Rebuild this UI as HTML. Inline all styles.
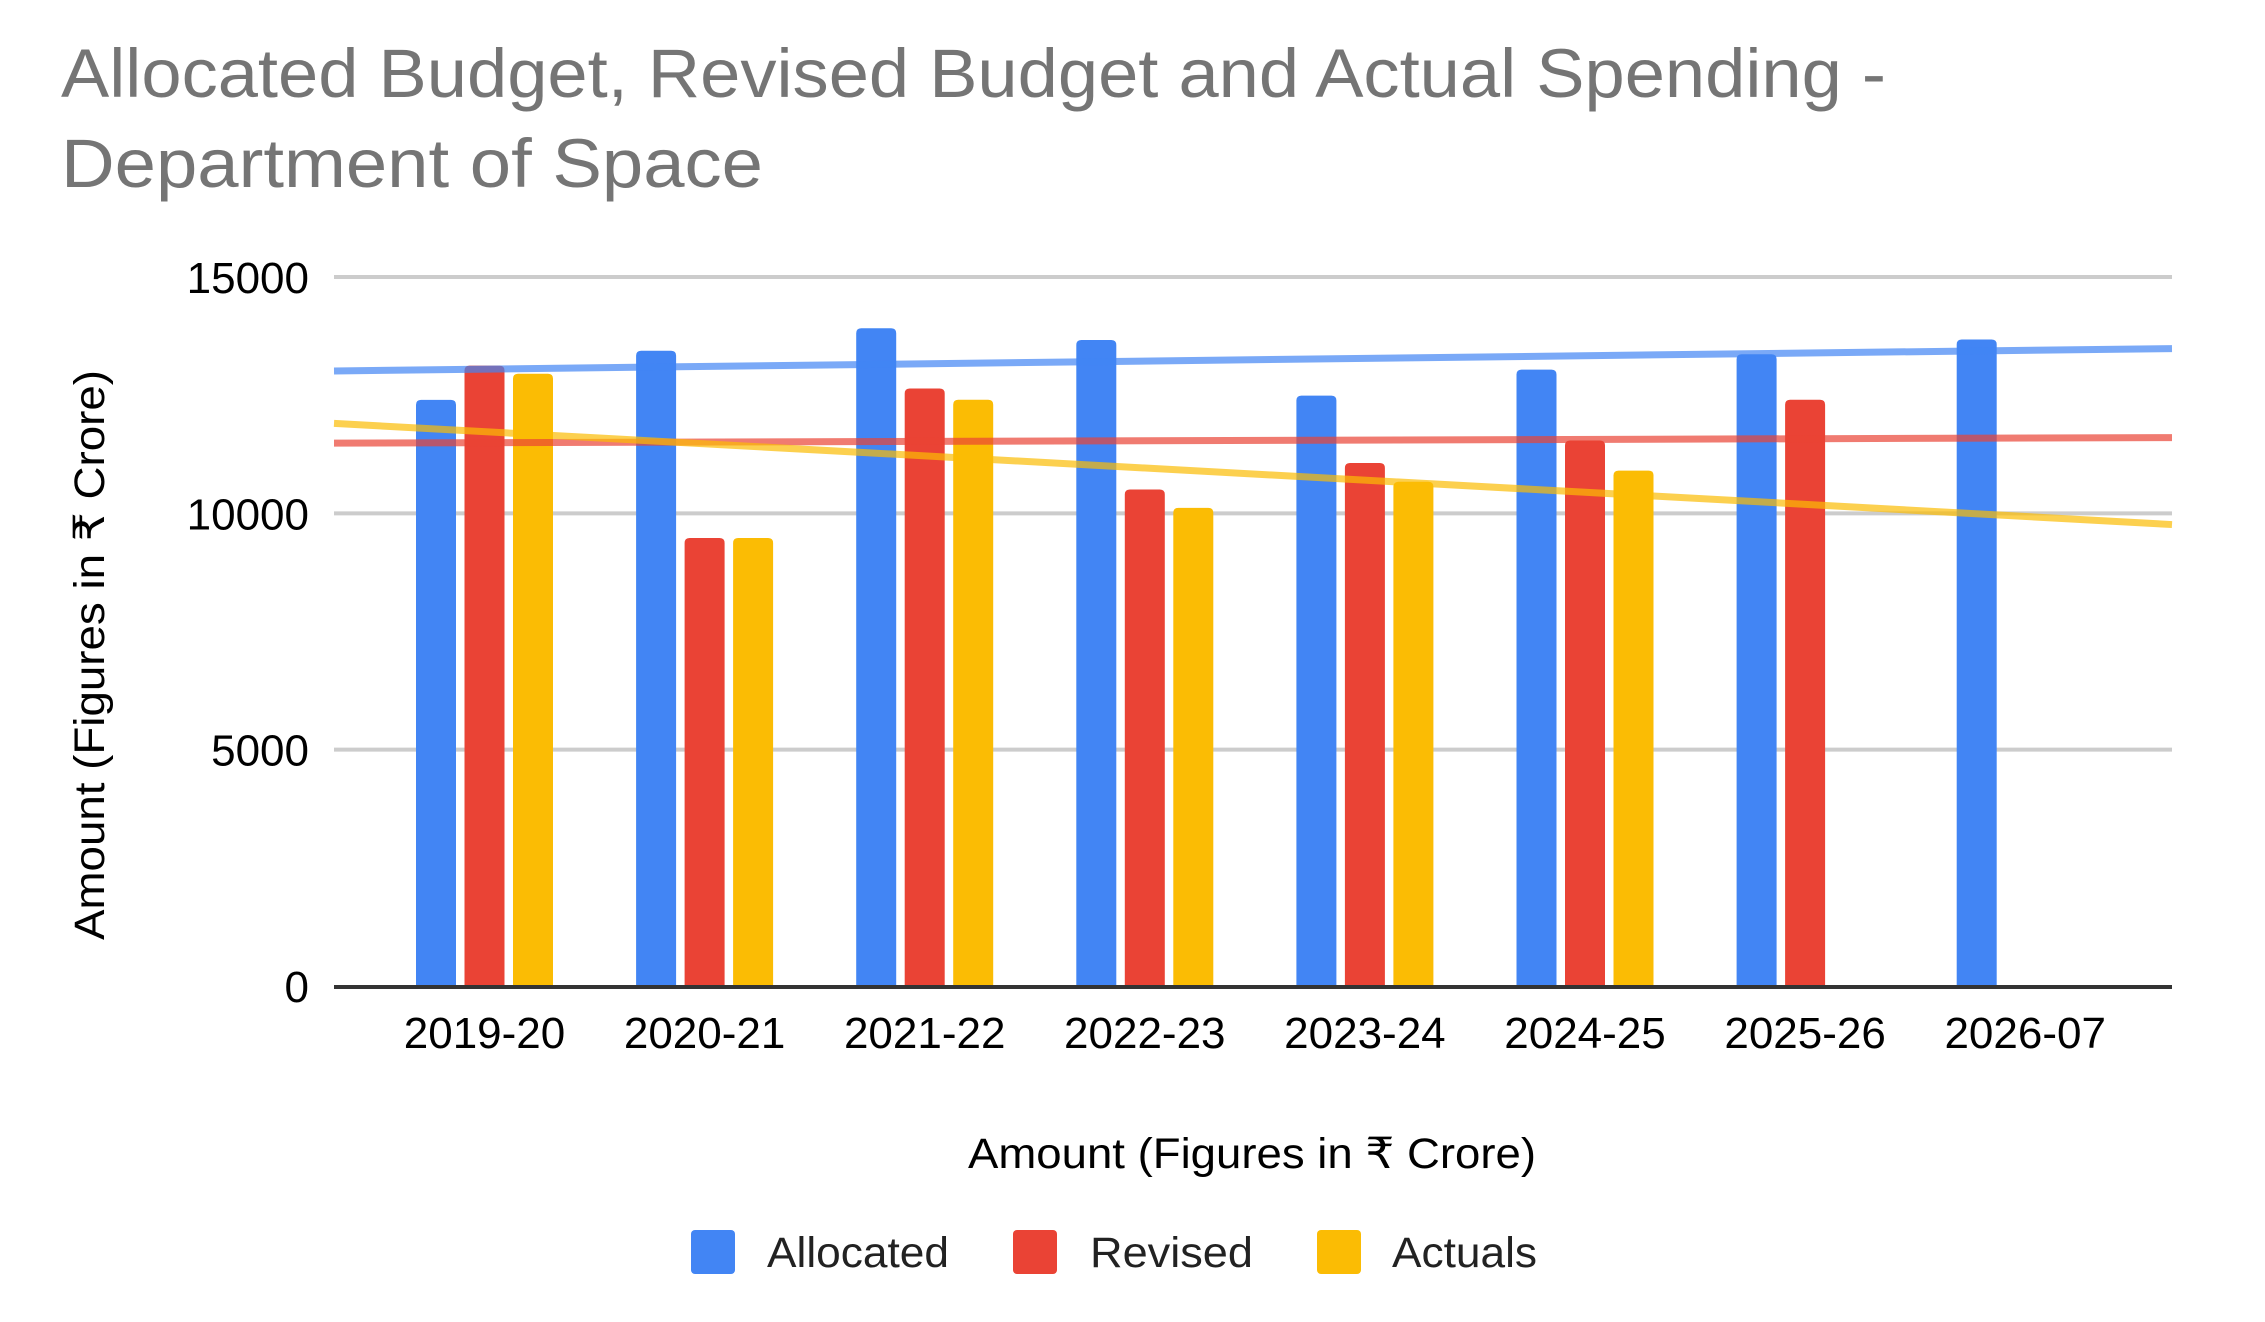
<!DOCTYPE html>
<html><head><meta charset="utf-8"><style>
html,body{margin:0;padding:0;background:#fff;}
svg{display:block;font-family:"Liberation Sans","Noto Sans CJK SC",sans-serif;}
</style></head><body>
<svg id="chart" width="2265" height="1322" viewBox="0 0 2265 1322" xmlns="http://www.w3.org/2000/svg">
<rect width="2265" height="1322" fill="#fff"/>
<text x="61" y="97" font-size="69" fill="#757575" textLength="1825" lengthAdjust="spacingAndGlyphs">Allocated Budget, Revised Budget and Actual Spending -</text>
<text x="61" y="187" font-size="69" fill="#757575" textLength="702" lengthAdjust="spacingAndGlyphs">Department of Space</text>
<g id="grid"></g>
<g id="bars"></g>
<g id="trends"></g>
<g id="axes"></g>
<text x="0" y="0" font-size="43" fill="#000" text-anchor="middle" transform="translate(104,655) rotate(-90)" textLength="570" lengthAdjust="spacingAndGlyphs">Amount (Figures in ₹ Crore)</text>
<text x="1252" y="1168" font-size="43" fill="#000" text-anchor="middle" textLength="568" lengthAdjust="spacingAndGlyphs">Amount (Figures in ₹ Crore)</text>
<g>
  <g>
    <rect x="691" y="1230" width="44" height="44" rx="4" fill="#4285f4"/>
    <text x="767" y="1267" font-size="43" fill="#222" textLength="182" lengthAdjust="spacingAndGlyphs">Allocated</text>
  </g>
  <g>
    <rect x="1013" y="1230" width="44" height="44" rx="4" fill="#ea4335"/>
    <text x="1090" y="1267" font-size="43" fill="#222" textLength="163" lengthAdjust="spacingAndGlyphs">Revised</text>
  </g>
  <g>
    <rect x="1317" y="1230" width="44" height="44" rx="4" fill="#fbbc04"/>
    <text x="1392" y="1267" font-size="43" fill="#222" textLength="145" lengthAdjust="spacingAndGlyphs">Actuals</text>
  </g>
</g>
</svg>
<script>
const categories = ["2019-20","2020-21","2021-22","2022-23","2023-24","2024-25","2025-26","2026-07"];
const allocated = [12400, 13440, 13915, 13667, 12490, 13040, 13365, 13678];
const revised = [13125, 9478, 12640, 10504, 11065, 11541, 12404, null];
const actuals = [12954, 9478, 12404, 10115, 10667, 10904, null, null];
const yTicks = [0, 5000, 10000, 15000];
const yTickLabels = ["0", "5000", "10000", "15000"];

const NS = "http://www.w3.org/2000/svg";
const X0 = 334, X1 = 2172, Y0 = 986, Ytop = 277, YMAX = 15000;
const PAD = 150.5, BAND = 220.1, BW = 40, STEP = 48.5;
function yScale(v){ return Y0 - (v / YMAX) * (Y0 - Ytop); }
function xCenter(i){ return X0 + PAD + i * BAND; }
function idxAt(px){ return (px - X0 - PAD) / BAND; }
function mk(tag, attrs, parent){
  const e = document.createElementNS(NS, tag);
  for (const k in attrs) e.setAttribute(k, attrs[k]);
  parent.appendChild(e);
  return e;
}
const grid = document.getElementById('grid');
const axes = document.getElementById('axes');
const barsG = document.getElementById('bars');
const trendsG = document.getElementById('trends');

yTicks.forEach((t, k) => {
  const y = yScale(t);
  if (t !== 0) {
    const g = mk('line', {x1: X0, x2: X1, y1: y, y2: y, stroke: '#cccccc', 'stroke-width': 4}, grid);
    
    
  }
  const lb = mk('text', {x: 309, y: y + 16, 'font-size': 44, 'text-anchor': 'end', fill: '#000'}, axes);
  lb.textContent = yTickLabels[k];
  
  
});

const seriesList = [
  {name: 'allocated', vals: allocated, color: '#4285f4', trend: '#4285f4'},
  {name: 'revised', vals: revised, color: '#ea4335', trend: '#ea4335'},
  {name: 'actuals', vals: actuals, color: '#fbbc04', trend: '#fbbc04'}
];

seriesList.forEach((s, si) => {
  s.vals.forEach((v, i) => {
    if (v === null || v === undefined) return;
    const x = xCenter(i) + (si - 1) * STEP - BW / 2;
    const yt = yScale(v), r = 5;
    const d = `M${x},${Y0} L${x},${yt + r} Q${x},${yt} ${x + r},${yt} L${x + BW - r},${yt} Q${x + BW},${yt} ${x + BW},${yt + r} L${x + BW},${Y0} Z`;
    const b = mk('path', {d: d, fill: s.color}, barsG);
    
    
  });
});

seriesList.forEach((s) => {
  const pts = [];
  s.vals.forEach((v, i) => { if (v !== null && v !== undefined) pts.push([i, v]); });
  const n = pts.length;
  const mx = pts.reduce((a, p) => a + p[0], 0) / n;
  const my = pts.reduce((a, p) => a + p[1], 0) / n;
  let sxy = 0, sxx = 0;
  pts.forEach(p => { sxy += (p[0] - mx) * (p[1] - my); sxx += (p[0] - mx) * (p[0] - mx); });
  const slope = sxy / sxx;
  const f = (ix) => my + slope * (ix - mx);
  const l = mk('line', {x1: X0, x2: X1, y1: yScale(f(idxAt(X0))), y2: yScale(f(idxAt(X1))), stroke: s.trend, 'stroke-width': 7, 'stroke-opacity': 0.7}, trendsG);
  
  
});

const ax = mk('line', {x1: X0, x2: X1, y1: Y0 + 1, y2: Y0 + 1, stroke: '#333', 'stroke-width': 4}, axes);



categories.forEach((c, i) => {
  const t = mk('text', {x: xCenter(i), y: 1048, 'font-size': 44, 'text-anchor': 'middle', fill: '#000'}, axes);
  t.textContent = c;
  
  
});
</script>
</body></html>
